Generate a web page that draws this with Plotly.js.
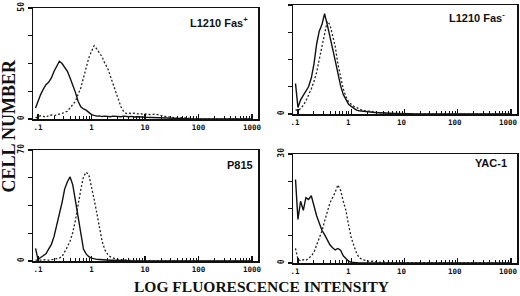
<!DOCTYPE html>
<html><head><meta charset="utf-8">
<script src="https://cdn.plot.ly/plotly-3.0.1.min.js"></script>
<style>html,body{margin:0;padding:0;background:#fff}#c{width:520px;height:296px}</style>
</head><body><div id="c"></div>
<script>
// Fluorescence channel values (log scale)
var fluor = [0.09, 0.1, 0.112, 0.126, 0.141, 0.158, 0.178, 0.2, 0.224, 0.251, 0.282, 0.316, 0.355, 0.398, 0.447, 0.501, 0.562, 0.631, 0.708, 0.794, 0.891, 1, 1.12, 1.26, 1.41, 1.58, 1.78, 2, 2.24, 2.51, 2.82, 3.16, 3.55, 3.98, 4.47, 5.01, 5.62, 6.31, 7.08, 7.94, 8.91, 10, 12.6, 15.8, 20, 25.1, 31.6, 39.8, 50.1, 63.1, 79.4, 100, 158, 251, 398, 631, 1000];

// L1210 Fas+ : control (solid) and anti-Fas (dotted)
var fasPosControl = [5, 8, 11, 13.5, 15.5, 16.5, 18.5, 21.5, 24, 26, 25, 23.5, 21.5, 18.5, 15.5, 12, 8, 5.5, 4.5, 4, 3, 2, 1.6, 1.3, 1.4, 1.1, 1.3, 1.2, 1.0, 1.3, 1.1, 1.2, 1.0, 1.3, 1.1, 1.0, 1.2, 0.9, 1.0, 0.8, 0.9, 0.8, 0.7, 0.6, 0.3, 0.2, 0.1, 0.1, 0.2, 0, 0, 0, 0, 0, 0, 0, 0];
var fasPosStained = [0.5, 1, 1.5, 1.2, 0.8, 1.5, 1.8, 1.5, 2, 2.2, 2.5, 3, 3.5, 5, 6.5, 8, 11, 14, 18.5, 23, 27.5, 30.5, 33, 31.5, 30, 28, 25, 23, 19.5, 16, 12, 9, 5.5, 3.5, 2.5, 2.7, 2.4, 2.6, 2.3, 2.5, 2.2, 2.3, 2.0, 2.2, 1.5, 1.0, 0.8, 0.5, 0.6, 0.3, 0.2, 0.1, 0.1, 0, 0, 0, 0];

// L1210 Fas-
var fasNegControl = [14, 3, 6.5, 8.5, 10.5, 12.5, 16.5, 23, 32, 38, 41, 46, 41, 36, 30, 24.5, 18, 13, 9, 6.5, 4.5, 3.5, 2.5, 1.8, 1.5, 1.3, 1.2, 1.1, 1.0, 0.8, 0.7, 0.6, 0.5, 0.5, 0.4, 0.3, 0.3, 0.2, 0.3, 0.2, 0.2, 0.1, 0.1, 0, 0, 0, 0, 0, 0, 0, 0, 0, 0, 0, 0, 0, 0];
var fasNegStained = [2, 1.5, 2.5, 4, 6, 8.5, 11.5, 15, 19, 25, 31, 38, 42.5, 41, 36.5, 31, 23, 17, 11.5, 8, 5.5, 4.5, 3.5, 3.0, 2.2, 1.8, 1.5, 1.2, 1.4, 1.0, 0.8, 0.6, 0.5, 0.6, 0.4, 0.3, 0.3, 0.2, 0.2, 0.1, 0.1, 0.1, 0.1, 0, 0, 0, 0, 0, 0, 0, 0, 0, 0, 0, 0, 0, 0];

// P815
var p815Control = [8, 1, 2.2, 3.5, 4.5, 7.5, 10.5, 15.5, 22, 29.5, 37, 45.5, 50, 53, 48, 38, 28, 15.5, 7.5, 4.5, 2.7, 1.8, 1.3, 1.0, 0.9, 0.7, 0.8, 0.6, 0.5, 0.5, 0.4, 0.4, 0.3, 0.3, 0.2, 0.3, 0.2, 0.1, 0.1, 0.1, 0, 0, 0, 0, 0, 0, 0, 0, 0, 0, 0, 0, 0, 0, 0, 0, 0];
var p815Stained = [0.5, 0.3, 0.5, 0.8, 0.6, 0.5, 0.8, 1.0, 1.3, 1.8, 2.8, 5.5, 9, 12.5, 18, 25.5, 36, 45, 53, 56, 54.5, 47.5, 39, 30, 20.5, 12.5, 7, 4.3, 2.7, 1.8, 1.3, 1.0, 0.8, 0.6, 0.5, 0.5, 0.4, 0.3, 0.3, 0.2, 0.2, 0.1, 0.1, 0.1, 0, 0, 0, 0, 0, 0, 0, 0, 0, 0, 0, 0, 0];

// YAC-1
var yacControl = [23, 12, 17, 14.5, 18, 17.5, 18.5, 15.5, 13, 11, 9, 7.8, 6.3, 5, 4.2, 3.6, 4, 3.5, 2, 1.2, 0.5, 0.2, 0.1, 0, 0, 0, 0, 0, 0, 0, 0, 0, 0, 0, 0, 0, 0, 0, 0, 0, 0, 0, 0, 0, 0, 0, 0, 0, 0, 0, 0, 0, 0, 0, 0, 0, 0];
var yacStained = [4, 1.0, 0.6, 0.9, 0.7, 1.3, 1.9, 3.0, 4.8, 6.8, 8.8, 11.5, 14.2, 16.5, 18, 19.5, 21.5, 20, 17, 14.5, 10.5, 7, 4.8, 2.7, 1.5, 1.0, 0.8, 0.5, 0.4, 0.5, 0.3, 0.3, 0.2, 0.3, 0.2, 0.1, 0.2, 0.1, 0.1, 0.1, 0, 0, 0, 0, 0, 0, 0, 0, 0, 0, 0, 0, 0, 0, 0, 0, 0];

var panelLabels = ['L1210 Fas<sup>+</sup>', 'L1210 Fas<sup>-</sup>', 'P815', 'YAC-1'];
var panelMax = [50, 50, 70, 30];
var xTickVals = [0.1, 1, 10, 100, 1000];
var xTickText = ['.1', '1', '10', '100', '1000'];
var yTitle = 'CELL NUMBER';
var xTitle = 'LOG FLUORESCENCE INTENSITY';

var controls = [fasPosControl, fasNegControl, p815Control, yacControl];
var stained = [fasPosStained, fasNegStained, p815Stained, yacStained];

var W = 520, H = 296;
// pixel boxes [left, right, top, bottom]
var boxes = [[33, 258, 8, 119], [293, 517, 5, 114], [33, 258, 150, 261], [293, 517, 154, 263]];
var labelPos = [[0.964, 0.87], [0.955, 0.89], [0.987, 0.865], [0.964, 0.915]];
var labelShift = [0, -3, 0, -3];

var minor = [];
[0.1, 1, 10, 100].forEach(function (d) { for (var m = 2; m <= 9; m++) minor.push(d * m); });

var data = [], layout = {
  width: W, height: H, margin: {l: 0, r: 0, t: 0, b: 0},
  paper_bgcolor: '#fff', plot_bgcolor: '#fff', showlegend: false,
  annotations: []
};
var xFont = {family: 'DejaVu Sans Mono', size: 7.5, color: '#111', weight: 'bold'};
var yFont = {family: 'DejaVu Sans Mono', size: 8, color: '#111', weight: 'bold'};

for (var i = 0; i < 4; i++) {
  var n = i === 0 ? '' : String(i + 1);
  var b = boxes[i];
  data.push({x: fluor, y: controls[i], xaxis: 'x' + n, yaxis: 'y' + n, type: 'scatter', mode: 'lines',
    line: {color: '#111', width: 1.4}, hoverinfo: 'skip'});
  data.push({x: fluor, y: stained[i], xaxis: 'x' + n, yaxis: 'y' + n, type: 'scatter', mode: 'lines',
    line: {color: '#222', width: 1.3, dash: '2px,2px'}, hoverinfo: 'skip'});
  var mx = panelMax[i];
  layout['xaxis' + n] = {
    type: 'log', range: [-1.093, 3.112], domain: [b[0] / W, b[1] / W], anchor: 'y' + n,
    showgrid: false, zeroline: false, showline: true, mirror: true, linecolor: '#111', linewidth: 1.5,
    ticks: 'inside', ticklen: 5, tickwidth: 1.2, tickcolor: '#111',
    tickvals: xTickVals, ticktext: xTickText, tickfont: xFont, ticklabeloverflow: 'allow',
    ticklabelshift: labelShift[i],
    minor: {tickvals: minor, ticks: 'inside', ticklen: 3, tickwidth: 1, tickcolor: '#111', showgrid: false}
  };
  layout['yaxis' + n] = {
    range: [0, mx], domain: [1 - b[3] / H, 1 - b[2] / H], anchor: 'x' + n,
    showgrid: false, zeroline: false, showline: true, mirror: true, linecolor: '#111', linewidth: 1.5,
    ticks: 'outside', ticklen: 4, tickwidth: 1.2, tickcolor: '#111',
    tickvals: [0, mx], ticktext: ['0', String(mx)],
    minor: {tickvals: [mx / 4, mx / 2, 3 * mx / 4], ticks: 'outside', ticklen: 4, tickwidth: 1.2, tickcolor: '#111', showgrid: false},
    tickangle: -90, tickfont: yFont
  };
  layout.annotations.push({
    text: panelLabels[i], xref: 'x' + n + ' domain', yref: 'y' + n + ' domain',
    x: labelPos[i][0], y: labelPos[i][1], xanchor: 'right', yanchor: 'middle', showarrow: false,
    font: {family: 'Liberation Sans', size: 11, color: '#111', weight: 'bold'}
  });
}
layout.annotations.push({
  text: yTitle, xref: 'paper', yref: 'paper', x: 8.5 / W, y: 1 - 126 / H, textangle: -90,
  xanchor: 'center', yanchor: 'middle', showarrow: false,
  font: {family: 'Liberation Serif', size: 18, color: '#111', weight: 'bold'}
});
layout.annotations.push({
  text: xTitle, xref: 'paper', yref: 'paper', x: 261 / W, y: 1 - 286 / H,
  xanchor: 'center', yanchor: 'middle', showarrow: false, borderpad: 0,
  font: {family: 'Liberation Serif', size: 15.5, color: '#111', weight: 'bold'}
});

Plotly.newPlot('c', data, layout, {staticPlot: true, displayModeBar: false});
</script></body></html>
